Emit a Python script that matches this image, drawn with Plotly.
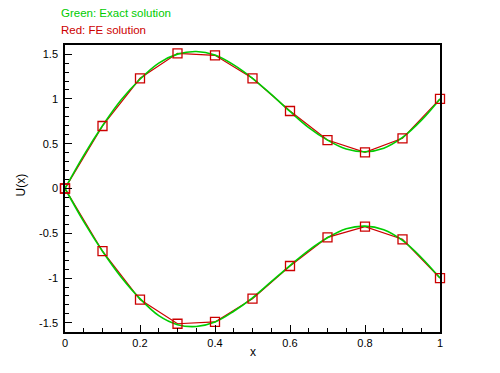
import plotly.graph_objects as go

# FE nodal values (red)
x_nodes = [0.0, 0.1, 0.2, 0.3, 0.4, 0.5, 0.6, 0.7, 0.8, 0.9, 1.0]
fe_upper = [0.0, 0.698, 1.23, 1.509, 1.487, 1.23, 0.865, 0.541, 0.404, 0.56, 1.0]
fe_lower = [0.0, -0.70, -1.24, -1.51, -1.49, -1.23, -0.865, -0.545, -0.425, -0.567, -1.0]

# Exact solution samples (green)
x_exact = [0.0, 0.05, 0.1, 0.15, 0.2, 0.25, 0.3, 0.35, 0.4, 0.45, 0.5,
           0.55, 0.6, 0.65, 0.7, 0.75, 0.8, 0.85, 0.9, 0.95, 1.0]
ex_upper = [0.0, 0.37, 0.70, 0.99, 1.22, 1.40, 1.50, 1.53, 1.49, 1.38, 1.23,
            1.05, 0.86, 0.68, 0.54, 0.44, 0.41, 0.45, 0.57, 0.76, 1.0]
ex_lower = [0.0, -0.37, -0.70, -0.99, -1.23, -1.42, -1.52, -1.54, -1.49, -1.37, -1.22,
            -1.04, -0.86, -0.69, -0.55, -0.45, -0.42, -0.46, -0.58, -0.77, -1.0]

x_ticks = [0, 0.2, 0.4, 0.6, 0.8, 1]
x_tick_labels = ["0", "0.2", "0.4", "0.6", "0.8", "1"]
y_ticks = [-1.5, -1, -0.5, 0, 0.5, 1, 1.5]
y_tick_labels = ["-1.5", "-1", "-0.5", "0", "0.5", "1", "1.5"]

RED = "#cc0000"
GREEN = "#00cc00"
FONT = "Liberation Sans"

fig = go.Figure()
for ys in (fe_upper, fe_lower):
    fig.add_trace(go.Scatter(x=x_nodes, y=ys, mode="lines", cliponaxis=False,
                             line=dict(color=RED, width=1.2), showlegend=False))
for ys in (ex_upper, ex_lower):
    fig.add_trace(go.Scatter(x=x_exact, y=ys, mode="lines", cliponaxis=False,
                             line=dict(color=GREEN, width=1.6, shape="spline", smoothing=1.0),
                             showlegend=False))
for ys in (fe_upper, fe_lower):
    fig.add_trace(go.Scatter(x=x_nodes, y=ys, mode="markers", cliponaxis=False,
                             marker=dict(symbol="square-open", size=9, color=RED,
                                         line=dict(width=1.3, color=RED)),
                             showlegend=False))

axis_common = dict(showline=True, linecolor="black", linewidth=1.5, mirror=True,
                   showgrid=False, zeroline=False, ticks="inside", ticklen=7,
                   tickcolor="black", tickwidth=1,
                   tickfont=dict(family=FONT, size=11, color="black"))

fig.update_xaxes(range=[0, 1], tickvals=x_ticks, ticktext=x_tick_labels,
                 minor=dict(dtick=0.05, tick0=0, ticks="inside", ticklen=4, tickcolor="black"),
                 **axis_common)
fig.update_yaxes(range=[-1.602, 1.602], tickvals=y_ticks, ticktext=y_tick_labels,
                 ticklabelstandoff=3,
                 minor=dict(dtick=0.1, tick0=0, ticks="inside", ticklen=4, tickcolor="black"),
                 **axis_common)

fig.update_layout(
    width=500, height=373,
    margin=dict(l=65, r=60, t=45, b=41),
    paper_bgcolor="white", plot_bgcolor="white",
    showlegend=False,
    annotations=[
        dict(text="Green: Exact solution", xref="paper", yref="paper", x=0, y=1,
             xshift=-6, yshift=32, xanchor="left", yanchor="middle", showarrow=False,
             font=dict(family=FONT, size=11.5, color=GREEN)),
        dict(text="Red: FE solution", xref="paper", yref="paper", x=0, y=1,
             xshift=-6, yshift=15, xanchor="left", yanchor="middle", showarrow=False,
             font=dict(family=FONT, size=11.5, color=RED)),
        dict(text="x", xref="paper", yref="paper", x=0.5, y=0,
             yshift=-20, xanchor="center", yanchor="middle", showarrow=False,
             font=dict(family=FONT, size=12, color="black")),
        dict(text="U(x)", xref="paper", yref="paper", x=0, y=0.5,
             xshift=-45, yshift=3, xanchor="center", yanchor="middle", showarrow=False,
             textangle=-90,
             font=dict(family=FONT, size=12, color="black")),
    ],
)

# remove the browser's default 8px body margin so the figure sits at the page origin
fig.write_html("out.html", config={"displayModeBar": False},
               post_script="document.body.style.margin='0';")
